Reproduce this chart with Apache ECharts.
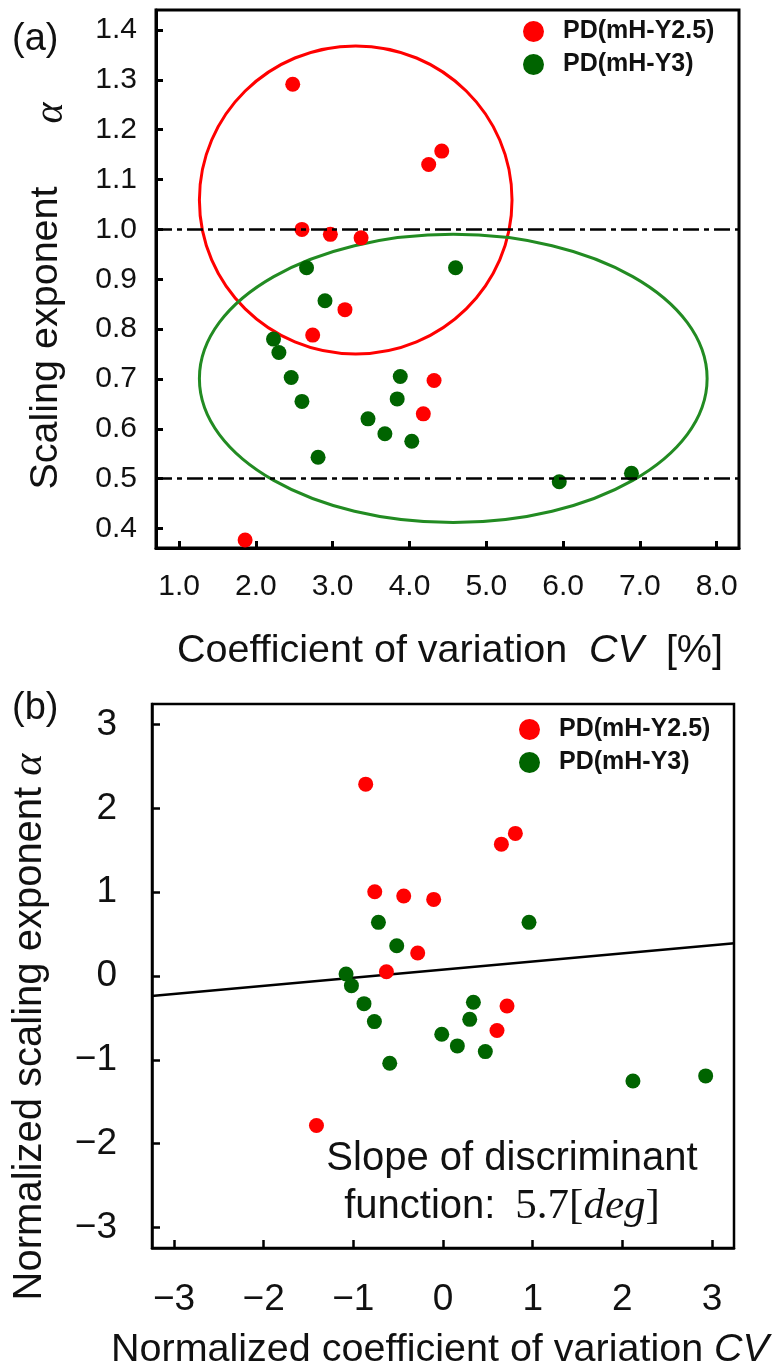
<!DOCTYPE html>
<html><head><meta charset="utf-8">
<script src="https://cdn.jsdelivr.net/npm/echarts@6/dist/echarts.min.js"></script>
<style>html,body{margin:0;padding:0;background:#fff}#c{width:778px;height:1369px}</style>
</head><body><div id="c"></div>
<script>
const seriesNames = ['PD(mH-Y2.5)', 'PD(mH-Y3)'];
// Panel (a): coefficient of variation CV [%] vs scaling exponent alpha
const aRedCV      = [2.48, 4.42, 4.25, 2.60, 2.97, 3.37, 3.16, 2.74, 4.32, 4.18, 1.86];
const aRedAlpha   = [1.291, 1.157, 1.130, 1.000, 0.990, 0.983, 0.839, 0.788, 0.697, 0.630, 0.377];
const aGreenCV    = [2.66, 2.90, 4.60, 2.23, 2.30, 2.46, 2.60, 2.81, 3.46, 3.68, 3.88, 3.84, 4.03, 5.95, 6.89];
const aGreenAlpha = [0.923, 0.857, 0.923, 0.780, 0.753, 0.703, 0.655, 0.543, 0.620, 0.590, 0.705, 0.660, 0.575, 0.494, 0.511];
const aRefLines   = [1.0, 0.5];
// ellipses: [center CV, center alpha, radius CV, radius alpha]
const aRedEllipse   = [3.30, 1.059, 2.035, 0.309];
const aGreenEllipse = [4.57, 0.701, 3.305, 0.289];
const aXTicks = [1, 2, 3, 4, 5, 6, 7, 8];
const aYTicks = [0.4, 0.5, 0.6, 0.7, 0.8, 0.9, 1.0, 1.1, 1.2, 1.3, 1.4];
// Panel (b): normalized values
const bRedX   = [0.651, 0.807, -0.761, -0.438, -0.104, -0.282, -0.631, 0.714, 0.602, -0.862, -1.411];
const bRedY   = [1.573, 1.701, 1.005, 0.954, 0.914, 0.274, 0.051, -0.358, -0.651, 2.289, -1.784];
const bGreenX = [-0.720, 0.959, -0.516, -1.081, -1.021, -0.881, -0.765, 0.339, 0.298, -0.014, 0.160, 0.472, -0.594, 2.118, 2.929];
const bGreenY = [0.640, 0.640, 0.361, 0.024, -0.115, -0.330, -0.544, -0.314, -0.517, -0.695, -0.834, -0.902, -1.041, -1.252, -1.192];
const bLineX  = [-3.25, 3.25];
const bLineY  = [-0.238, 0.390];
const bTicks  = [-3, -2, -1, 0, 1, 2, 3];

const RED = '#ff0000', GREEN = '#006400', GREEN_E = '#228b22';
const FF = 'Liberation Sans, Arial, sans-serif';
const SERIF = 'Liberation Serif, serif';
const zip = (xs, ys) => xs.map((x, i) => [x, ys[i]]);
const minus = v => (v < 0 ? '\u2212' + Math.abs(v) : String(v));

function axisCommon(ticks, fmt, fs, margin, lw, tl) {
  return {
    type: 'value',
    axisLine: { show: true, onZero: false, lineStyle: { color: '#000', width: lw } },
    axisTick: { show: true, inside: true, length: tl, lineStyle: { color: '#000', width: lw }, customValues: ticks },
    axisLabel: { customValues: ticks, formatter: fmt, fontSize: fs, fontFamily: FF, color: '#111', margin: margin },
    splitLine: { show: false }
  };
}

const ellipseSeries = (data, color, extra) => Object.assign({
  type: 'custom', xAxisIndex: 0, yAxisIndex: 0, z: 1, silent: true,
  data: [data],
  renderItem: (params, api) => {
    const c = api.coord([api.value(0), api.value(1)]);
    const s = api.size([api.value(2), api.value(3)]);
    return { type: 'ellipse', shape: { cx: c[0], cy: c[1], rx: s[0], ry: s[1] },
      style: { fill: 'none', stroke: color, lineWidth: 3 } };
  }
}, extra || {});

const legendCfg = (left, top) => ({
  left: left, top: top, orient: 'vertical', icon: 'circle', itemWidth: 21, itemHeight: 21, itemGap: 8,
  selectedMode: false, data: seriesNames,
  textStyle: { fontSize: 25, fontWeight: 'bold', fontFamily: FF, color: '#111', padding: [0, 0, 0, 14] }
});

const ctr = { align: 'center', verticalAlign: 'middle', textAlign: 'center', textVerticalAlign: 'middle', fill: '#111' };

const chart = echarts.init(document.getElementById('c'), null, { renderer: 'canvas' });
chart.setOption({
  animation: false,
  backgroundColor: '#fff',
  grid: [
    { left: 156, top: 10, width: 583, height: 538, show: true, borderColor: '#000', borderWidth: 3 },
    { left: 152, top: 704, width: 582, height: 544, show: true, borderColor: '#000', borderWidth: 2.5 }
  ],
  xAxis: [
    Object.assign(axisCommon(aXTicks, v => v.toFixed(1), 30, 24, 3, 7), { gridIndex: 0, min: 0.70, max: 8.29 }),
    Object.assign(axisCommon(bTicks, minus, 37, 33, 2.5, 8), { gridIndex: 1, min: -3.245, max: 3.245 })
  ],
  yAxis: [
    Object.assign(axisCommon(aYTicks, v => v.toFixed(1), 30, 19, 3, 7), { gridIndex: 0, min: 0.361, max: 1.44 }),
    Object.assign(axisCommon(bTicks, minus, 37, 35, 2.5, 8), { gridIndex: 1, min: -3.245, max: 3.245 })
  ],
  legend: [legendCfg(518, 14), legendCfg(514, 712)],
  series: [
    ellipseSeries(aRedEllipse, RED, {
      markLine: { silent: true, symbol: 'none', label: { show: false },
        lineStyle: { color: '#000', width: 2.5, type: [16, 5, 5, 5] },
        data: aRefLines.map(v => ({ yAxis: v })) }
    }),
    ellipseSeries(aGreenEllipse, GREEN_E),
    { name: seriesNames[0], type: 'scatter', xAxisIndex: 0, yAxisIndex: 0, z: 3, symbolSize: 15,
      itemStyle: { color: RED, opacity: 1 }, data: zip(aRedCV, aRedAlpha) },
    { name: seriesNames[1], type: 'scatter', xAxisIndex: 0, yAxisIndex: 0, z: 3, symbolSize: 15,
      itemStyle: { color: GREEN, opacity: 1 }, data: zip(aGreenCV, aGreenAlpha) },
    { type: 'line', xAxisIndex: 1, yAxisIndex: 1, z: 2, symbol: 'none', silent: true,
      lineStyle: { color: '#000', width: 2.5 }, data: zip(bLineX, bLineY) },
    { name: seriesNames[0], type: 'scatter', xAxisIndex: 1, yAxisIndex: 1, z: 3, symbolSize: 15,
      itemStyle: { color: RED, opacity: 1 }, data: zip(bRedX, bRedY) },
    { name: seriesNames[1], type: 'scatter', xAxisIndex: 1, yAxisIndex: 1, z: 3, symbolSize: 15,
      itemStyle: { color: GREEN, opacity: 1 }, data: zip(bGreenX, bGreenY) }
  ],
  graphic: [
    { type: 'text', left: 12, top: 21, style: { text: '(a)', fontSize: 38, fontFamily: FF, fill: '#111' } },
    { type: 'text', left: 12, top: 690, style: { text: '(b)', fontSize: 38, fontFamily: FF, fill: '#111' } },
    { type: 'text', x: 46, y: 338, rotation: Math.PI / 2,
      style: Object.assign({ text: 'Scaling exponent', fontSize: 39.5, fontFamily: FF }, ctr) },
    { type: 'text', x: 51, y: 113, rotation: Math.PI / 2,
      style: Object.assign({ text: '\u03b1', fontSize: 40, fontStyle: 'italic', fontFamily: SERIF }, ctr) },
    { type: 'text', x: 450, y: 651,
      style: Object.assign({ text: 'Coefficient of variation  {i|CV}  [%]', fontSize: 39.5, fontFamily: FF,
        rich: { i: { fontSize: 39.5, fontStyle: 'italic', fontFamily: FF, fill: '#111' } } }, ctr) },
    { type: 'text', x: 30, y: 1027, rotation: Math.PI / 2,
      style: Object.assign({ text: 'Normalized scaling exponent {a|\u03b1}', fontSize: 40, fontFamily: FF,
        rich: { a: { fontSize: 42, fontStyle: 'italic', fontFamily: SERIF, fill: '#111' } } }, ctr) },
    { type: 'text', x: 440, y: 1350,
      style: Object.assign({ text: 'Normalized coefficient of variation {i|CV}', fontSize: 39.5, fontFamily: FF,
        rich: { i: { fontSize: 39.5, fontStyle: 'italic', fontFamily: FF, fill: '#111' } } }, ctr) },
    { type: 'text', x: 512, y: 1159,
      style: Object.assign({ text: 'Slope of discriminant', fontSize: 40, fontFamily: FF }, ctr) },
    { type: 'text', x: 502, y: 1207,
      style: Object.assign({ text: 'function:\u2002{s|5.7[}{d|deg}{s|]}', fontSize: 40, fontFamily: FF,
        rich: { s: { fontSize: 43, fontFamily: SERIF, fill: '#111' },
                d: { fontSize: 43, fontStyle: 'italic', fontFamily: SERIF, fill: '#111' } } }, ctr) }
  ]
});
</script></body></html>
